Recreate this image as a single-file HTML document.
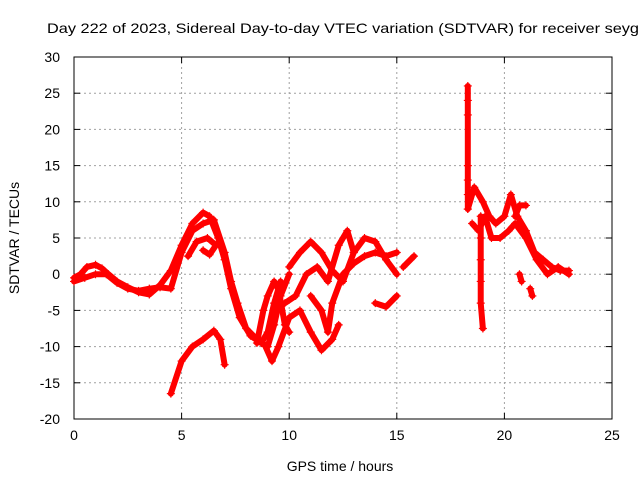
<!DOCTYPE html>
<html><head><meta charset="utf-8"><style>
body{margin:0;background:#fff}
svg text{font-family:"Liberation Sans",sans-serif;font-size:14px;fill:#000}
</style></head><body>
<svg width="640" height="480">
<rect width="640" height="480" fill="#fff"/>
<text x="47" y="33" textLength="592" lengthAdjust="spacingAndGlyphs">Day 222 of 2023, Sidereal Day-to-day VTEC variation (SDTVAR) for receiver seyg</text>
<g id="grid"></g>
<g id="axes"></g>
<g id="marks"></g>
<text x="340" y="471" text-anchor="middle">GPS time / hours</text>
<text transform="translate(19,238) rotate(-90)" text-anchor="middle">SDTVAR / TECUs</text>
</svg>
<script>
const xTicks=[0,5,10,15,20,25];
const yTicks=[-20,-15,-10,-5,0,5,10,15,20,25,30];
const traceA=[[0,-0.5],[0.3,0],[0.6,1],[1,1.3],[1.3,0.8],[1.6,0],[2,-1],[2.5,-1.8],[3,-2.5],[3.5,-2.8],[4,-1.5],[4.5,0.5],[5,4],[5.5,7],[6,8.5],[6.3,8],[6.7,5],[7,2],[7.3,-2],[7.7,-6],[8.2,-8.5],[8.7,-9.5],[9,-8],[9.3,-4],[9.6,-1]];
const traceB=[[0,-1],[0.5,-0.5],[1,0],[1.5,0],[2,-1.2],[2.5,-2],[3,-2.3],[3.5,-2],[4,-1.8],[4.5,-2],[5,3],[5.5,6],[6,7],[6.5,7.5],[7,3],[7.3,-1],[7.6,-4],[8,-7.5],[8.5,-9],[9,-10],[9.3,-7],[9.6,-3],[10,0]];
const traceLoop=[[5.3,2.5],[5.7,4.5],[6.2,5],[6.6,4],[6.3,2.7],[6.0,3.3]];
const traceLow=[[4.5,-16.5],[5,-12],[5.5,-10],[6,-9],[6.5,-7.8],[6.8,-9],[7,-12.5]];
const traceC=[[8.9,-10],[9.2,-12],[9.5,-10],[10,-6],[10.5,-5],[11,-8],[11.5,-10.5],[12,-9],[12.3,-7]];
const traceD=[[8.5,-9.5],[8.8,-5],[9,-3],[9.3,-1],[9.5,-2],[9.8,-7],[10,-8]];
const traceE=[[10,1],[10.5,3],[11,4.5],[11.5,3],[12,0.5],[12.5,-1],[13,3],[13.5,5],[14,4.5],[14.5,2],[15,0]];
const traceF=[[9.8,-4],[10.3,-3],[10.8,0],[11.3,1],[11.8,-1],[12.3,4],[12.7,6],[13,3]];
const traceG=[[11,-3],[11.5,-5],[11.8,-8],[12,-4],[12.5,0],[13,1.5],[13.5,2.5],[14,3],[14.5,2.5],[15,3]];
const traceH=[[14,-4],[14.5,-4.5],[15,-3]];
const traceI=[[15.3,1],[15.8,2.5]];
const traceSpike1=[[18.3,26],[18.3,24],[18.3,22],[18.3,15],[18.3,13],[18.3,11],[18.3,9]];
const traceJ=[[18.3,9],[18.6,12],[19,10],[19.3,8],[19.6,7],[20,8],[20.3,11],[20.6,8],[21,6],[21.4,3],[21.8,2],[22.2,1],[22.6,0.5],[23,0.5]];
const traceSpike2=[[18.9,8],[18.9,5],[18.9,2],[18.9,-1],[18.9,-4],[19,-7.5]];
const traceK=[[18.5,7],[18.8,6],[19.1,8],[19.4,5],[19.8,5],[20.2,6],[20.5,7],[21,5],[21.5,2],[22,0],[22.5,1],[23,0]];
const traceL=[[20.5,8],[20.7,9.5],[21,9.5]];
const traceM=[[21.2,-2],[21.3,-3]];
const traceN=[[20.7,0],[20.8,-1]];
const traces=[traceA,traceB,traceLoop,traceLow,traceC,traceD,traceE,traceF,traceG,traceH,traceI,traceSpike1,traceJ,traceSpike2,traceK,traceL,traceM,traceN];
const X0=74,X1=612,Y0=419,Y1=57;
const sx=v=>X0+(v-0)/(25-0)*(X1-X0);
const sy=v=>Y0-(v+20)/(50)*(Y0-Y1);
const NS="http://www.w3.org/2000/svg";
const grid=document.getElementById('grid'),axes=document.getElementById('axes'),marks=document.getElementById('marks');
function mk(t,a,p){const e=document.createElementNS(NS,t);for(const k in a)e.setAttribute(k,a[k]);p.appendChild(e);return e;}
xTicks.forEach(v=>{const x=sx(v);
 const g=mk('line',{x1:x,x2:x,y1:Y1,y2:Y0,stroke:'#a0a0a0','stroke-dasharray':'2,3','stroke-width':1},grid);
 
 
 const t=mk('text',{x:x,y:Y0+21,'text-anchor':'middle'},axes);t.textContent=v;
 
 
 mk('line',{x1:x,x2:x,y1:Y0,y2:Y0-6,stroke:'#000'},axes);mk('line',{x1:x,x2:x,y1:Y1,y2:Y1+6,stroke:'#000'},axes);});
yTicks.forEach(v=>{const y=sy(v);
 const g=mk('line',{x1:X0,x2:X1,y1:y,y2:y,stroke:'#a0a0a0','stroke-dasharray':'2,3','stroke-width':1},grid);
 
 
 const t=mk('text',{x:X0-14,y:y+5,'text-anchor':'end'},axes);t.textContent=v;
 
 
 mk('line',{x1:X0,x2:X0+6,y1:y,y2:y,stroke:'#000'},axes);mk('line',{x1:X1,x2:X1-6,y1:y,y2:y,stroke:'#000'},axes);});
mk('rect',{x:X0,y:Y1,width:X1-X0,height:Y0-Y1,fill:'none',stroke:'#000'},axes);
traces.forEach(tr=>{
 const pl=mk('polyline',{points:tr.map(p=>sx(p[0])+','+sy(p[1])).join(' '),fill:'none',stroke:'#f00','stroke-width':6,'stroke-linejoin':'round','stroke-linecap':'round'},marks);
 
 
 tr.forEach(p=>{const x=sx(p[0]),y=sy(p[1]);
  const m=mk('path',{d:`M${x-4},${y}H${x+4}M${x},${y-4}V${y+4}`,stroke:'#f00','stroke-width':1.2},marks);
  
  });
});
</script>
</body></html>
